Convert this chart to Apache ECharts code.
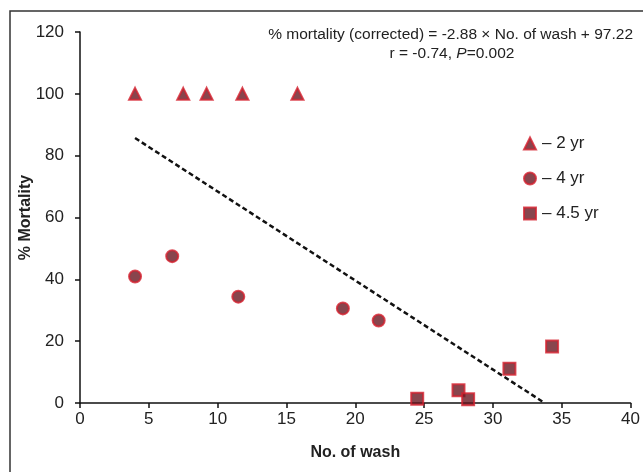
<!DOCTYPE html>
<html><head><meta charset="utf-8">
<script src="https://cdn.jsdelivr.net/npm/echarts@6/dist/echarts.min.js"></script>
<style>html,body{margin:0;padding:0;background:#fff}#c{width:643px;height:472px}</style>
</head><body><div id="c"></div>
<script>
const xTicks = [0, 5, 10, 15, 20, 25, 30, 35, 40];
const yTicks = [0, 20, 40, 60, 80, 100, 120];
const yr2X = [4.0, 7.5, 9.2, 11.8, 15.8];
const yr2Y = [100, 100, 100, 100, 100];
const yr4X = [4.0, 6.7, 11.5, 19.1, 21.7];
const yr4Y = [40.9, 47.5, 34.4, 30.6, 26.7];
const yr45X = [24.5, 27.5, 28.2, 31.2, 34.3];
const yr45Y = [1.4, 4.1, 1.2, 11.1, 18.3];
const slope = -2.88, intercept = 97.22;
const fitX = [4.0, 33.76];

const chart = echarts.init(document.getElementById('c'));
const pairs = (xs, ys) => xs.map((x, i) => [x, ys[i]]);
const markerStyle = {color: '#6a1620', borderColor: '#d4202e', borderWidth: 2};
const font = 'Liberation Sans, Arial, sans-serif';
chart.setOption({
  animation: false,
  grid: {left: 80, right: 10, top: 32, bottom: 69},
  xAxis: {
    type: 'value', min: 0, max: 40, interval: 5,
    name: 'No. of wash', nameLocation: 'middle', nameGap: 42,
    nameTextStyle: {fontFamily: font, fontSize: 16, fontWeight: 'bold', color: '#222'},
    axisLine: {lineStyle: {color: '#111', width: 1.5}},
    axisTick: {show: true, inside: false, length: 5, lineStyle: {color: '#111', width: 1.5}},
    axisLabel: {fontFamily: font, fontSize: 17, color: '#222', margin: 8},
    splitLine: {show: false}
  },
  yAxis: {
    type: 'value', min: 0, max: 120, interval: 20,
    name: '% Mortality', nameLocation: 'middle', nameGap: 46, nameRotate: 90, nameMoveOverlap: false,
    nameTextStyle: {fontFamily: font, fontSize: 16, fontWeight: 'bold', color: '#222'},
    axisLine: {show: true, lineStyle: {color: '#111', width: 1.5}},
    axisTick: {show: true, length: 5, lineStyle: {color: '#111', width: 1.5}},
    axisLabel: {fontFamily: font, fontSize: 17, color: '#222', margin: 16},
    splitLine: {show: false}
  },
  legend: {
    orient: 'vertical', left: 518, top: 130, itemGap: 18, itemWidth: 12, itemHeight: 12,
    textStyle: {fontFamily: font, fontSize: 17, color: '#222', padding: [0, 0, 0, 1]},
    formatter: n => '– ' + n,
    data: [{name: '2 yr', icon: 'triangle'}, {name: '4 yr', icon: 'circle'}, {name: '4.5 yr', icon: 'rect'}]
  },
  series: [
    {name: 'fit', type: 'line', data: fitX.map(x => [x, slope * x + intercept]), symbol: 'none',
     lineStyle: {color: '#111', width: 2.5, type: [5, 3]}, z: 1},
    {name: '2 yr', type: 'scatter', symbol: 'triangle', symbolSize: 12, data: pairs(yr2X, yr2Y), itemStyle: markerStyle},
    {name: '4 yr', type: 'scatter', symbol: 'circle', symbolSize: 12, data: pairs(yr4X, yr4Y), itemStyle: markerStyle},
    {name: '4.5 yr', type: 'scatter', symbol: 'rect', symbolSize: 12, data: pairs(yr45X, yr45Y), itemStyle: markerStyle}
  ],
  graphic: [
    {type: 'rect', shape: {x: 10, y: 11, width: 650, height: 480}, style: {fill: 'none', stroke: '#333', lineWidth: 1.5}, silent: true},
    {type: 'text', x: 633, y: 35, style: {text: '% mortality (corrected) = -2.88 × No. of wash + 97.22', textAlign: 'right', textVerticalAlign: 'middle', font: '15.5px ' + font, fill: '#222'}},
    {type: 'text', x: 452, y: 54, style: {text: '{a|r = -0.74, }{b|P}{a|=0.002}', textAlign: 'center', textVerticalAlign: 'middle',
      rich: {a: {fontFamily: font, fontSize: 15.5, fill: '#222'}, b: {fontFamily: font, fontSize: 15.5, fontStyle: 'italic', fill: '#222'}}}}
  ]
});
</script></body></html>
